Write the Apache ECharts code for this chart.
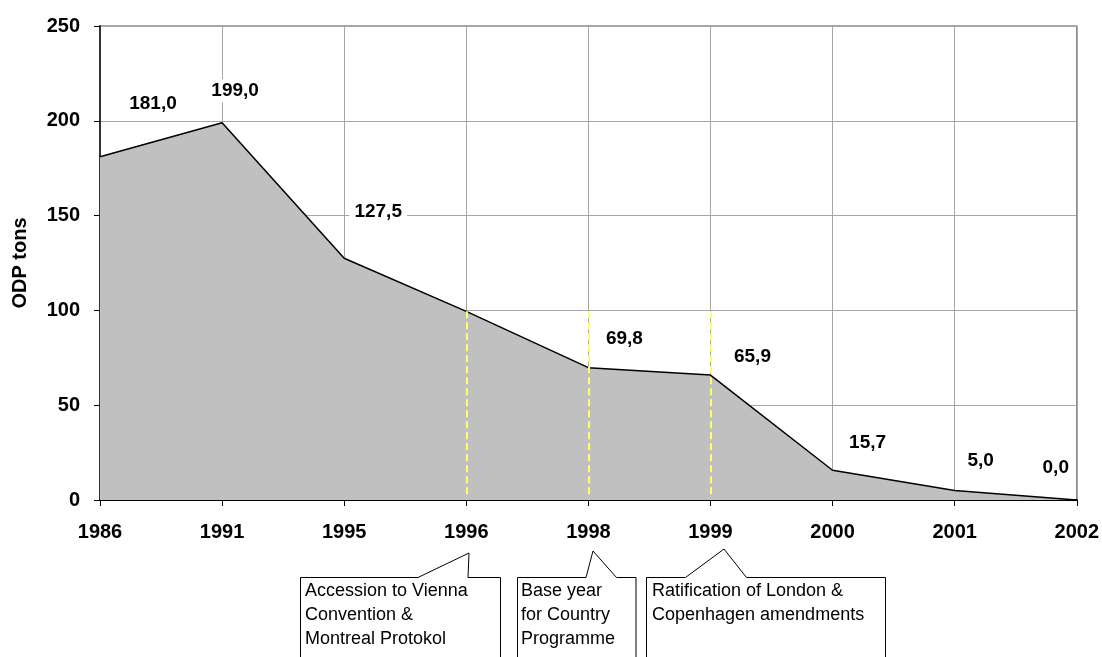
<!DOCTYPE html>
<html>
<head>
<meta charset="utf-8">
<title>ODP tons</title>
<script src="https://cdn.jsdelivr.net/npm/echarts@6.0.0/dist/echarts.min.js"></script>
<style>
  html, body { margin: 0; padding: 0; background: #fff; }
  #main { width: 1102px; height: 657px; }
</style>
</head>
<body>
<div id="main"></div>
<script>
var years = ['1986', '1991', '1995', '1996', '1998', '1999', '2000', '2001', '2002'];
var odpTons = [181.0, 199.0, 127.5, 99.5, 69.8, 65.9, 15.7, 5.0, 0.0];
var showLabel = [true, true, true, false, true, true, true, true, true];
var eventYears = ['1996', '1998', '1999'];

// where each value label sits relative to its point (px)
var labelOffsets = [[53, -53], [13, -32], [34, -46], [0, 0], [36, -29], [42, -18], [35, -27], [26, -30], [-21, -32]];

document.addEventListener("DOMContentLoaded", function(){
  var chartDom = document.getElementById('main');
  var myChart = echarts.init(chartDom);
  var font = "'Liberation Sans', Arial, sans-serif";

  var seriesData = odpTons.map(function(v, i){
    return {
      value: v,
      label: { show: showLabel[i], offset: labelOffsets[i] }
    };
  });

  var markLines = eventYears.map(function(y){
    return [{ coord: [y, 99.5] }, { coord: [y, 3] }];
  });

  function callout(points, textX, lines){
    return [
      {
        type: 'polygon',
        shape: { points: points },
        style: { fill: '#fff', stroke: '#000', lineWidth: 1 },
        z: 10
      },
      {
        type: 'text',
        x: textX,
        y: 579,
        style: {
          text: lines.join('\n'),
          font: '18px ' + font,
          fill: '#000',
          lineHeight: 24
        },
        z: 11
      }
    ];
  }

  var graphics = [].concat(
    callout([[300.5, 577.5], [418, 577.5], [469, 553], [468, 577.5], [500.5, 577.5], [500.5, 665], [300.5, 665]],
      305, ['Accession to Vienna', 'Convention &', 'Montreal Protokol']),
    callout([[517.5, 577.5], [586, 577.5], [593, 551], [616.5, 577.5], [636, 577.5], [636, 665], [517.5, 665]],
      521, ['Base year', 'for Country', 'Programme']),
    callout([[646.5, 577.5], [685.5, 577.5], [724, 549], [746.5, 577.5], [885.5, 577.5], [885.5, 665], [646.5, 665]],
      652, ['Ratification of London &', 'Copenhagen amendments'])
  );

  var option = {
    animation: false,
    textStyle: { fontFamily: font },
    grid: {
      left: 100,
      right: 24,
      top: 26,
      bottom: 157,
      show: true,
      borderColor: '#8c8c8c',
      borderWidth: 1.5
    },
    xAxis: {
      type: 'category',
      data: years,
      boundaryGap: false,
      axisLine: { lineStyle: { color: '#000', width: 2 } },
      axisTick: { show: true, length: 6, lineStyle: { color: '#000' } },
      axisLabel: {
        margin: 22,
        fontSize: 20,
        fontWeight: 'bold',
        color: '#000',
        fontFamily: font
      },
      splitLine: { show: true, lineStyle: { color: '#a6a6a6', width: 1 } }
    },
    yAxis: {
      type: 'value',
      min: 0,
      max: 250,
      interval: 50,
      name: 'ODP tons',
      nameLocation: 'middle',
      nameGap: 70,
      nameTextStyle: { fontSize: 20, fontWeight: 'bold', color: '#000', fontFamily: font },
      axisLine: { show: true, lineStyle: { color: '#333', width: 2 } },
      axisTick: { show: true, length: 6, lineStyle: { color: '#000' } },
      axisLabel: {
        margin: 20,
        fontSize: 20,
        fontWeight: 'bold',
        color: '#000',
        fontFamily: font
      },
      splitLine: { show: true, lineStyle: { color: '#a6a6a6', width: 1 } }
    },
    series: [
      {
        name: 'ODP tons',
        type: 'line',
        data: seriesData,
        symbol: 'circle',
        symbolSize: 1,
        itemStyle: { color: 'transparent' },
        lineStyle: { color: '#000', width: 1.5 },
        areaStyle: { color: '#c0c0c0', opacity: 1 },
        label: {
          show: true,
          position: 'inside',
          formatter: function(p){ return p.value.toFixed(1).replace('.', ','); },
          fontSize: 19,
          fontWeight: 'bold',
          fontFamily: "'Liberation Sans Narrow', 'Liberation Sans', Arial, sans-serif",
          color: '#000',
          backgroundColor: '#fff',
          padding: [2, 5]
        },
        emphasis: { disabled: true },
        markLine: {
          silent: true,
          symbol: 'none',
          label: { show: false },
          lineStyle: { color: '#ffff66', type: [7, 4], width: 2, opacity: 1 },
          data: markLines
        }
      }
    ],
    graphic: graphics
  };

  option && myChart.setOption(option);
});
</script>
</body>
</html>
